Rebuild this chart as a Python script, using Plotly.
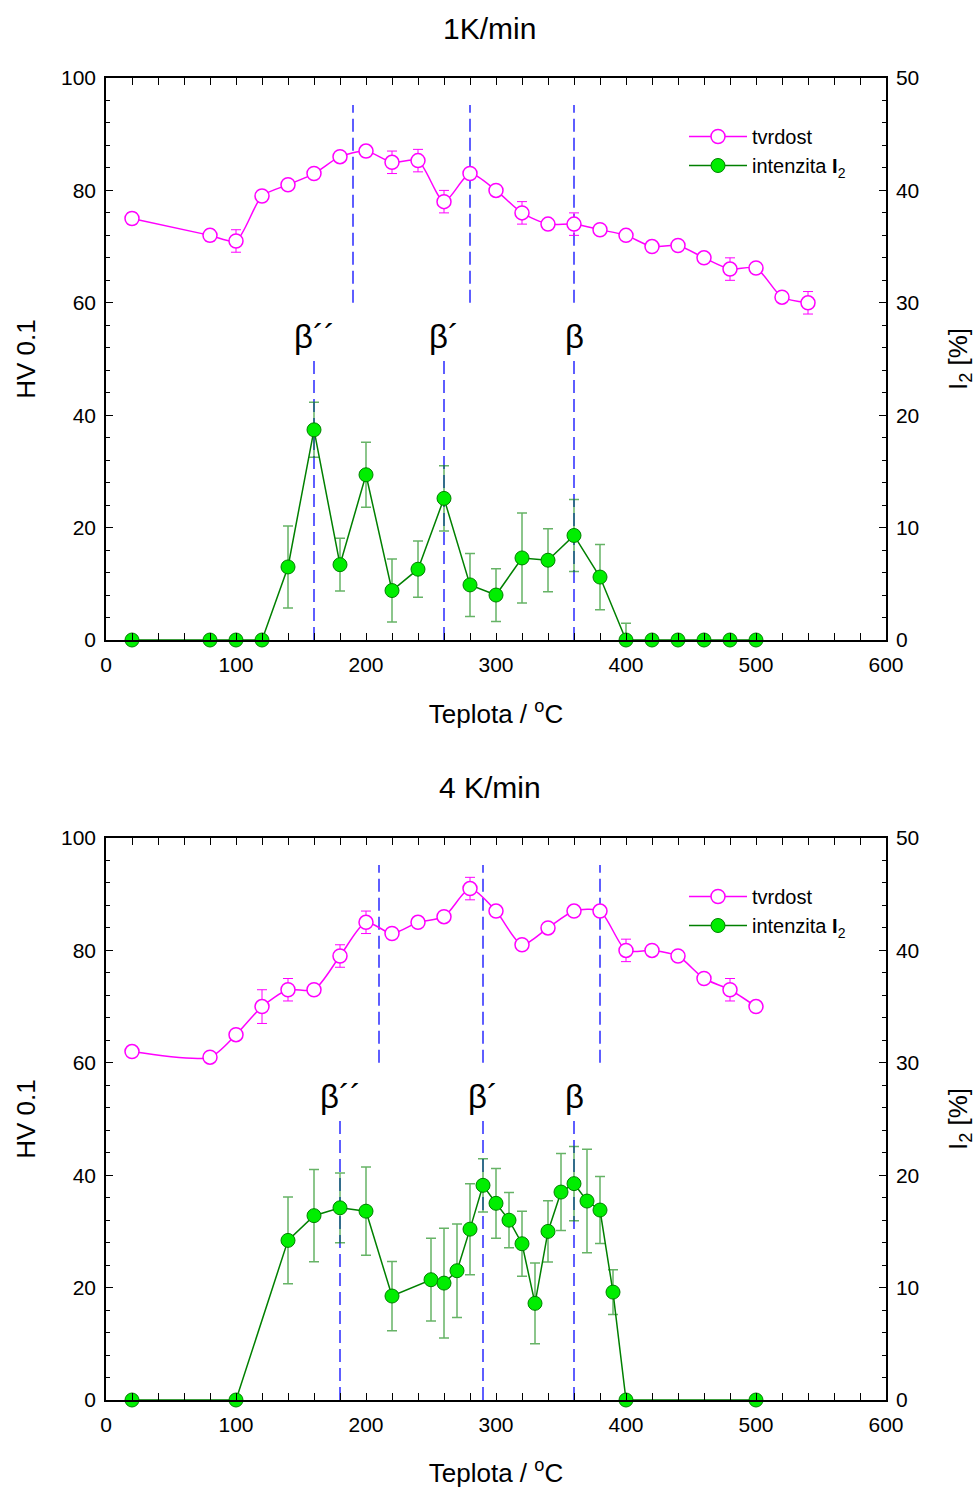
import plotly.graph_objects as go

# ---------------- data: 1 K/min ----------------
t1_hv = [20, 80, 100, 120, 140, 160, 180, 200, 220, 240, 260, 280, 300, 320, 340, 360, 380, 400, 420, 440, 460, 480, 500, 520, 540]
hv1 = [75, 72, 71, 79, 81, 83, 86, 87, 85, 85.3, 78, 83, 80, 76, 74, 74, 73, 72, 70, 70.2, 68, 66, 66.2, 61, 60]
hv1_err = [1, 1, 2, 1, 0.8, 0.8, 0.8, 1, 2, 2, 2, 0.8, 0.8, 2, 0.8, 2, 0.8, 0.8, 0.8, 0.8, 0.8, 2, 0.8, 0.8, 2]

t1_i = [20, 80, 100, 120, 140, 160, 180, 200, 220, 240, 260, 280, 300, 320, 340, 360, 380, 400, 420, 440, 460, 480, 500]
i1 = [0, 0, 0, 0, 6.5, 18.7, 6.7, 14.7, 4.4, 6.3, 12.6, 4.9, 4.0, 7.3, 7.1, 9.3, 5.6, 0, 0, 0, 0, 0, 0]
i1_err_plus = [0, 0, 0, 0, 3.65, 2.45, 2.35, 2.9, 2.8, 2.5, 2.9, 2.8, 2.35, 4.0, 2.8, 3.2, 2.9, 1.5, 0, 0, 0, 0, 0]
i1_err_minus = [0, 0, 0, 0, 3.65, 2.45, 2.35, 2.9, 2.8, 2.5, 2.9, 2.8, 2.35, 4.0, 2.8, 3.2, 2.9, 0, 0, 0, 0, 0, 0]

lines1_upper = [190, 280, 360]
lines1_lower = [160, 260, 360]

# ---------------- data: 4 K/min ----------------
t4_hv = [20, 80, 100, 120, 140, 160, 180, 200, 220, 240, 260, 280, 300, 320, 340, 360, 380, 400, 420, 440, 460, 480, 500]
hv4 = [62, 61, 65, 70, 73, 73, 79, 85, 83, 85, 86, 91, 87, 81, 84, 87, 87, 80, 80, 79, 75, 73, 70]
hv4_err = [0.8, 0.8, 0.8, 3, 2, 0.8, 2, 2, 0.8, 0.8, 0.8, 2, 0.8, 0.8, 0.8, 0.8, 0.8, 2, 0.8, 0.8, 0.8, 2, 0.8]

t4_i = [20, 100, 140, 160, 180, 200, 220, 250, 260, 270, 280, 290, 300, 310, 320, 330, 340, 350, 360, 370, 380, 390, 400, 500]
i4 = [0, 0, 14.2, 16.4, 17.1, 16.8, 9.25, 10.7, 10.4, 11.5, 15.2, 19.1, 17.5, 16.0, 13.9, 8.6, 15.0, 18.5, 19.25, 17.7, 16.9, 9.6, 0, 0]
i4_err = [0, 0, 3.86, 4.1, 3.1, 3.93, 3.08, 3.68, 4.88, 4.15, 4.05, 2.37, 3.1, 2.46, 2.9, 3.59, 2.73, 3.43, 3.3, 4.6, 2.98, 1.99, 0, 0]

lines4_upper = [210, 290, 380]
lines4_lower = [180, 290, 360]

beta_labels = ["β´´", "β´", "β"]
titles = ["1K/min", "4 K/min"]

# ---------------- styling ----------------
MAG = "#ff00ff"
GREEN_LINE = "#008000"
GREEN_FILL = "#00ee00"
ERR_GREEN = "rgba(0,128,0,0.6)"
BLUE = "#2a2aff"
FONT = "Liberation Sans, Arial, sans-serif"

W, H = 979, 1488
ML, MR, MT, MB = 106, 93, 78, 88
plot_h = H - MT - MB
top_dom = [1 - (640 - 78) / plot_h, 1]
bot_dom = [0, (1400 - 838) / plot_h]


def py(pix):
    return (H - MB - pix) / plot_h


def px(pix):
    return (pix - ML) / (W - ML - MR)


fig = go.Figure()

panels = [
    dict(t_hv=t1_hv, hv=hv1, hv_err=hv1_err, t_i=t1_i, i=i1, ip=i1_err_plus, im=i1_err_minus,
         up=lines1_upper, lo=lines1_lower, xa="x", ya="y", ya2="y2", legend="legend"),
    dict(t_hv=t4_hv, hv=hv4, hv_err=hv4_err, t_i=t4_i, i=i4, ip=i4_err, im=i4_err,
         up=lines4_upper, lo=lines4_lower, xa="x2", ya="y3", ya2="y4", legend="legend2"),
]

for p in panels:
    fig.add_trace(go.Scatter(
        x=p["t_hv"], y=p["hv"], mode="lines+markers", name="tvrdost",
        xaxis=p["xa"], yaxis=p["ya"], legend=p["legend"],
        line=dict(color=MAG, width=1.5, shape="spline", smoothing=0.7),
        marker=dict(symbol="circle", size=14, color="white", line=dict(color=MAG, width=1.5)),
        error_y=dict(type="data", array=p["hv_err"], color=MAG, thickness=1, width=5),
        cliponaxis=False,
    ))
    fig.add_trace(go.Scatter(
        x=p["t_i"], y=p["i"], mode="lines+markers", name="intenzita <b>I</b><sub>2</sub>",
        xaxis=p["xa"], yaxis=p["ya2"], legend=p["legend"],
        line=dict(color=GREEN_LINE, width=1.5),
        marker=dict(symbol="circle", size=14, color=GREEN_FILL, line=dict(color=GREEN_LINE, width=1)),
        error_y=dict(type="data", symmetric=False, array=p["ip"], arrayminus=p["im"],
                     color=ERR_GREEN, thickness=1.5, width=5),
        cliponaxis=False,
    ))
    for xv in p["up"]:
        fig.add_shape(type="line", xref=p["xa"], yref=p["ya"], x0=xv, x1=xv, y0=60, y1=95.2,
                      line=dict(color=BLUE, width=1.5, dash="13px,6px"), layer="below")
    for xv in p["lo"]:
        fig.add_shape(type="line", xref=p["xa"], yref=p["ya"], x0=xv, x1=xv, y0=0, y1=49.8,
                      line=dict(color=BLUE, width=1.5, dash="13px,6px"), layer="below")
    for xv, lab in zip(p["lo"], beta_labels):
        fig.add_annotation(x=xv, y=54, xref=p["xa"], yref=p["ya"], text=lab, showarrow=False,
                           font=dict(size=33, color="black", family=FONT), xanchor="center", yanchor="middle")

# titles
for ttl, ypix in zip(titles, [28, 788]):
    fig.add_annotation(x=px(489.5), y=py(ypix), xref="paper", yref="paper", text=ttl,
                       showarrow=False, xanchor="center", yanchor="middle",
                       font=dict(size=30, color="black", family=FONT))

tickfont = dict(size=21, color="black", family=FONT)
titlefont = dict(size=26, color="black", family=FONT)

xcommon = dict(range=[0, 600], dtick=100, tick0=0, ticks="inside", ticklen=7, tickwidth=1.2, tickcolor="black",
               minor=dict(dtick=20, ticks="inside", ticklen=4, tickwidth=1, tickcolor="black"),
               showline=True, linecolor="black", linewidth=1.5, mirror="allticks", showgrid=False,
               zeroline=False, tickfont=tickfont, ticklabelstandoff=5, automargin=False,
               title=dict(text="Teplota / <sup>o</sup>C", font=titlefont, standoff=30))
ycommon = dict(range=[0, 100], dtick=20, tick0=0, ticks="inside", ticklen=7, tickwidth=1.2, tickcolor="black",
               minor=dict(dtick=4, ticks="inside", ticklen=4, tickwidth=1, tickcolor="black"),
               showline=True, linecolor="black", linewidth=1.5, showgrid=False, zeroline=False,
               tickfont=tickfont, ticklabelstandoff=4, automargin=False,
               title=dict(text="HV 0.1", font=titlefont, standoff=18))
y2common = dict(range=[0, 50], dtick=10, tick0=0, ticks="inside", ticklen=7, tickwidth=1.2, tickcolor="black",
                minor=dict(dtick=2, ticks="inside", ticklen=4, tickwidth=1, tickcolor="black"),
                showline=True, linecolor="black", linewidth=1.5, showgrid=False, zeroline=False,
                side="right", tickfont=tickfont, ticklabelstandoff=4, automargin=False,
                title=dict(text="I<sub>2</sub> [%]", font=titlefont, standoff=30))

legend_common = dict(x=px(684), xanchor="left", yanchor="top", bgcolor="rgba(0,0,0,0)",
                     font=dict(size=20, color="black", family=FONT), tracegroupgap=0, itemwidth=58)

fig.update_layout(
    width=W, height=H,
    margin=dict(l=ML, r=MR, t=MT, b=MB, autoexpand=False),
    paper_bgcolor="white", plot_bgcolor="white",
    font=dict(family=FONT, color="black"),
    xaxis=dict(domain=[0, 1], anchor="y", **xcommon),
    yaxis=dict(domain=top_dom, anchor="x", **ycommon),
    yaxis2=dict(anchor="x", overlaying="y", **y2common),
    xaxis2=dict(domain=[0, 1], anchor="y3", **xcommon),
    yaxis3=dict(domain=bot_dom, anchor="x2", **ycommon),
    yaxis4=dict(anchor="x2", overlaying="y3", **y2common),
    legend=dict(y=py(117), **legend_common),
    legend2=dict(y=py(877), **legend_common),
    showlegend=True,
)

fig.write_html("out.html")
